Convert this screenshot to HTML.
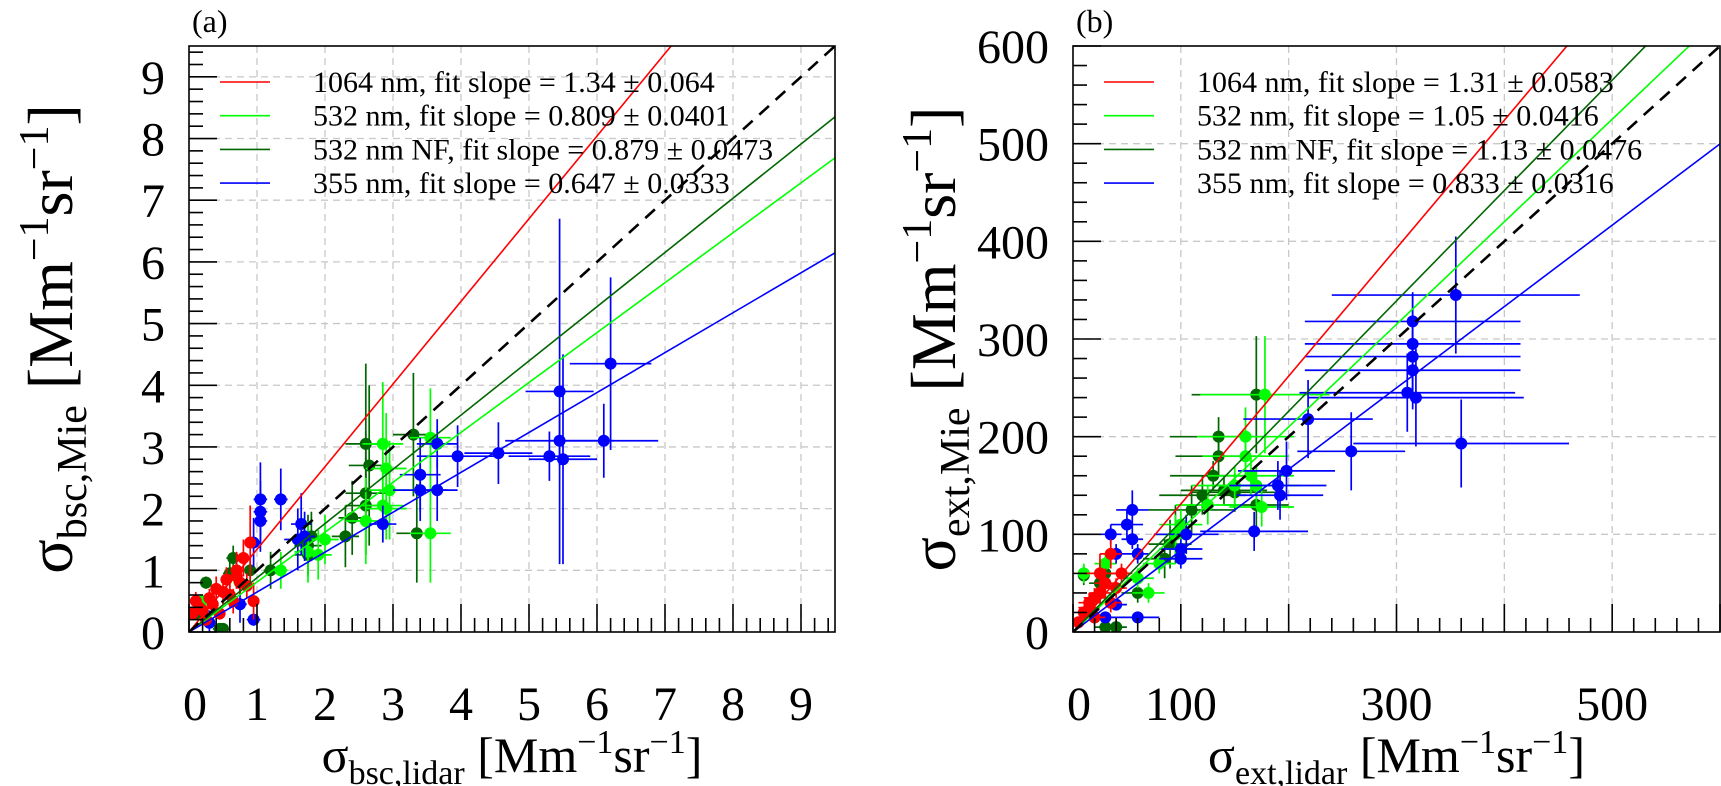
<!DOCTYPE html>
<html><head><meta charset="utf-8"><style>
html,body{margin:0;padding:0;background:#fff;}
svg{display:block;font-family:"Liberation Serif",serif;}
</style></head><body>
<svg id="fig" width="1721" height="786" viewBox="0 0 1721 786" xmlns="http://www.w3.org/2000/svg"></svg>
<script>
// ---------- Panel (a) data: [x, y, xerr, yerr] ----------
const aBlue=[[6.2,4.35,0.6,1.4],[5.45,3.9,0.5,2.8],[5.45,3.1,0.8,0.4],[5.5,2.8,0.5,1.7],[5.3,2.85,0.6,0.4],[6.1,3.1,0.8,0.6],[4.55,2.9,0.5,0.5],[3.95,2.85,0.6,0.5],[3.65,3.05,0.3,0.4],[3.65,2.3,0.3,0.5],[3.4,2.55,0.3,0.6],[3.4,2.3,0.4,0.5],[2.85,1.75,0.2,0.3],[1.6,1.5,0.2,0.5],[1.35,2.15,0.1,0.5],[1.05,2.15,0.1,0.6],[1.05,1.95,0.1,0.5],[1.05,1.8,0.1,0.5],[1.7,1.55,0.15,0.4],[1.65,1.75,0.15,0.5],[0.95,1.45,0.1,0.4],[0.95,0.2,0.1,0.1],[0.75,0.45,0.1,0.3],[0.3,0.15,0.05,0.2]];
const aDark=[[2.6,3.05,0.3,1.3],[2.65,2.7,0.3,1.3],[2.6,2.25,0.3,1.0],[2.6,2.05,0.3,0.8],[2.4,1.85,0.2,0.6],[3.3,3.2,0.3,1.0],[3.35,1.6,0.3,0.8],[2.3,1.55,0.2,0.5],[1.8,1.55,0.2,0.4],[1.75,1.25,0.2,0.3],[1.2,1.0,0.1,0.3],[0.9,1.0,0.1,0.2],[0.65,1.2,0.1,0.2],[0.6,0.95,0.1,0.3],[0.25,0.8,0.05,0.1],[0.5,0.05,0.1,0.05],[0.45,0.05,0.1,0.05],[0.1,0.3,0.05,0.1],[1.75,1.4,0.2,0.5]];
const aLight=[[2.85,3.05,0.3,1.0],[2.9,2.65,0.3,0.9],[2.95,2.3,0.3,0.8],[2.85,2.05,0.3,0.6],[3.55,3.15,0.3,0.8],[3.55,1.6,0.3,0.8],[2.9,2.0,0.3,0.5],[2.0,1.5,0.2,0.4],[1.9,1.25,0.2,0.4],[1.35,1.0,0.1,0.3],[0.75,0.8,0.1,0.2],[0.2,0.5,0.05,0.1],[1.75,1.3,0.2,0.5],[2.6,1.8,0.3,0.7]];
const aRed=[[0.05,0.3,0.05,0.1],[0.1,0.5,0.05,0.15],[0.15,0.4,0.05,0.1],[0.2,0.35,0.05,0.1],[0.3,0.55,0.05,0.15],[0.35,0.45,0.05,0.1],[0.4,0.7,0.05,0.2],[0.5,0.65,0.05,0.2],[0.55,0.85,0.05,0.2],[0.6,0.6,0.05,0.2],[0.7,1.0,0.05,0.3],[0.75,0.8,0.05,0.2],[0.8,1.2,0.05,0.3],[0.7,0.9,0.05,0.2],[0.85,0.75,0.05,0.2],[0.9,1.45,0.05,0.6],[0.65,0.5,0.05,0.2],[0.45,0.3,0.05,0.1],[0.25,0.2,0.05,0.1],[0.95,0.5,0.05,0.3]];
const aSlopes=[1.34,0.809,0.879,0.647];
const aLegend=["1064 nm, fit slope = 1.34 \u00b1 0.064","532 nm, fit slope = 0.809 \u00b1 0.0401","532 nm NF, fit slope = 0.879 \u00b1 0.0473","355 nm, fit slope = 0.647 \u00b1 0.0333"];
const aXTicks=[0,1,2,3,4,5,6,7,8,9];
const aYTicks=[0,1,2,3,4,5,6,7,8,9];
// ---------- Panel (b) data ----------
const bBlue=[[355,345,115,60],[315,318,100,30],[315,295,100,50],[315,282,100,40],[315,268,100,40],[310,245,100,40],[318,240,100,50],[360,193,100,45],[218,218,60,40],[258,185,50,40],[198,165,45,30],[190,150,45,25],[192,140,40,25],[168,103,50,20],[105,100,30,20],[55,125,15,20],[50,110,15,15],[35,100,10,10],[40,80,10,10],[60,80,10,10],[55,95,10,10],[40,28,10,5],[30,15,10,5],[60,15,20,3],[100,85,20,10],[100,75,20,10]];
const bDark=[[170,243,60,60],[135,200,45,20],[135,180,40,20],[130,160,40,15],[140,145,40,15],[120,140,40,20],[110,125,40,25],[95,100,20,30],[90,90,20,25],[85,75,20,20],[150,143,40,20],[170,130,30,30],[30,60,10,10],[25,50,10,20],[20,35,10,10],[10,58,5,10],[20,15,10,5],[30,5,10,3],[40,5,10,3],[60,40,15,10]];
const bLight=[[178,243,60,60],[160,200,45,30],[160,180,40,20],[165,160,40,20],[150,150,40,20],[170,150,40,20],[125,130,30,20],[100,110,20,15],[95,100,20,20],[100,85,15,15],[60,55,15,10],[70,40,15,10],[10,60,5,10],[30,70,10,10],[175,128,30,20],[80,70,15,10]];
const bRed=[[35,80,10,15],[25,60,15,20],[30,50,10,15],[25,40,10,10],[20,35,10,10],[15,25,10,8],[10,20,5,5],[20,15,10,5],[5,10,5,5],[35,30,10,10],[40,45,10,10],[15,30,10,10],[45,60,10,10]];
const bSlopes=[1.31,1.05,1.13,0.833];
const bLegend=["1064 nm, fit slope = 1.31 \u00b1 0.0583","532 nm, fit slope = 1.05 \u00b1 0.0416","532 nm NF, fit slope = 1.13 \u00b1 0.0476","355 nm, fit slope = 0.833 \u00b1 0.0316"];
const bXTicks=[0,100,300,500];
const bYTicks=[0,100,200,300,400,500,600];

const NS="http://www.w3.org/2000/svg";
const svg=document.getElementById('fig');
const COLORS=["#ff0000","#00ff00","#006600","#0000ff"];
function mk(tag,attrs,parent){const e=document.createElementNS(NS,tag);for(const k in attrs)e.setAttribute(k,attrs[k]);(parent||svg).appendChild(e);return e;}

function panel(o){
  const g=mk('g',{});
  
  
  const sx=v=>o.L+(v-o.xmin)/(o.xmax-o.xmin)*(o.R-o.L);
  const sy=v=>o.B-(v-o.ymin)/(o.ymax-o.ymin)*(o.B-o.T);
  const clip='clip-'+o.name;
  const cp=mk('clipPath',{id:clip},g);mk('rect',{x:o.L,y:o.T,width:o.R-o.L,height:o.B-o.T},cp);
  const grid=mk('g',{stroke:'#c8c8c8','stroke-width':1.3,'stroke-dasharray':'7,5'},g);
  
  
  for(let v=o.xgrid;v<o.xmax-1e-9;v+=o.xgrid){mk('line',{x1:sx(v),x2:sx(v),y1:o.T,y2:o.B},grid);}
  for(let v=o.ygrid;v<o.ymax-1e-9;v+=o.ygrid){mk('line',{x1:o.L,x2:o.R,y1:sy(v),y2:sy(v)},grid);}
  const plot=mk('g',{'clip-path':'url(#'+clip+')'},g);
  const sets=[o.dark,o.light,o.blue,o.red];
  const cols=["#006600","#00ff00","#0000ff","#ff0000"];
  const names=['series-532nf','series-532','series-355','series-1064'];
  sets.forEach((s,i)=>{
    const sg=mk('g',{stroke:cols[i],fill:cols[i],'stroke-width':1.7},plot);
    
    
    s.forEach(d=>{
      mk('line',{x1:sx(d[0]-d[2]),x2:sx(d[0]+d[2]),y1:sy(d[1]),y2:sy(d[1])},sg);
      mk('line',{x1:sx(d[0]),x2:sx(d[0]),y1:sy(d[1]-d[3]),y2:sy(d[1]+d[3])},sg);
      const c=mk('circle',{cx:sx(d[0]),cy:sy(d[1]),r:6,stroke:'none'},sg);
      
      
    });
  });
  const fitNames=['fit-1064','fit-532','fit-532nf','fit-355'];
  o.slopes.forEach((m,i)=>{
    const l=mk('line',{x1:sx(0),y1:sy(0),x2:sx(o.xmax),y2:sy(m*o.xmax),stroke:COLORS[i],'stroke-width':1.6},plot);
    
    
  });
  const one=mk('line',{x1:sx(0),y1:sy(0),x2:sx(o.xmax),y2:sy(o.xmax),stroke:'#000','stroke-width':2.6,'stroke-dasharray':'13,9'},plot);
  
  
  const fr=mk('rect',{x:o.L,y:o.T,width:o.R-o.L,height:o.B-o.T,fill:'none',stroke:'#000','stroke-width':1.6},g);
  
  
  const tk=mk('g',{stroke:'#000','stroke-width':1.6},g);
  
  
  for(let v=o.xmin;v<=o.xmax+1e-9;v+=o.xminor){const major=Math.abs(v/o.xmajor-Math.round(v/o.xmajor))<1e-6;mk('line',{x1:sx(v),x2:sx(v),y1:o.B,y2:o.B-(major?28:14)},tk);}
  for(let v=o.ymin;v<=o.ymax+1e-9;v+=o.yminor){const major=Math.abs(v/o.ymajor-Math.round(v/o.ymajor))<1e-6;mk('line',{x1:o.L,x2:o.L+(major?28:14),y1:sy(v),y2:sy(v)},tk);}
  o.xticks.forEach(v=>{const t=mk('text',{x:sx(v)+(v===0?6:0),y:o.B+88,'text-anchor':'middle','font-size':48},g);t.textContent=v;});
  o.yticks.forEach(v=>{const t=mk('text',{x:o.L-24,y:sy(v)+17,'text-anchor':'end','font-size':48},g);t.textContent=v;});
  const lg=mk('g',{},g);
  
  
  o.legend.forEach((s,i)=>{
    const y=o.T+36+i*33.7;
    const l=mk('line',{x1:o.L+31,x2:o.L+81,y1:y,y2:y,stroke:COLORS[i],'stroke-width':1.6},lg);
    
    
    const t=mk('text',{x:o.L+124,y:y+10,'font-size':30},lg);t.textContent=s;
    
    
  });
  const pl=mk('text',{x:o.L+3,y:o.T-14,'font-size':32},g);pl.textContent=o.label;
  
  
  const xt=mk('text',{x:(o.L+o.R)/2,y:o.B+140,'text-anchor':'middle','font-size':50},g);
  
  
  xt.innerHTML='\u03c3<tspan font-size="34" dy="12">'+o.sub+',lidar</tspan><tspan dy="-12"> [Mm</tspan><tspan font-size="34" dy="-19">\u22121</tspan><tspan dy="19">sr</tspan><tspan font-size="34" dy="-19">\u22121</tspan><tspan dy="19">]</tspan>';
  const yt=mk('text',{x:0,y:0,'text-anchor':'middle','font-size':64,transform:'translate('+o.yTitleX+','+((o.T+o.B)/2)+') rotate(-90)'},g);
  
  
  yt.innerHTML='\u03c3<tspan font-size="42" dy="14">'+o.sub+',Mie</tspan><tspan dy="-14"> [Mm</tspan><tspan font-size="42" dy="-24">\u22121</tspan><tspan dy="24">sr</tspan><tspan font-size="42" dy="-24">\u22121</tspan><tspan dy="24">]</tspan>';
}
panel({name:'panel-a',label:'(a)',sub:'bsc',L:189,R:835,T:46,B:632,yTitleX:72,xmin:0,xmax:9.5,ymin:0,ymax:9.5,xgrid:1,ygrid:1,xmajor:1,xminor:0.2,ymajor:1,yminor:0.2,
  blue:aBlue,dark:aDark,light:aLight,red:aRed,slopes:aSlopes,legend:aLegend,xticks:aXTicks,yticks:aYTicks});
panel({name:'panel-b',label:'(b)',sub:'ext',L:1073,R:1720,T:46,B:632,yTitleX:955,xmin:0,xmax:600,ymin:0,ymax:600,xgrid:100,ygrid:100,xmajor:100,xminor:20,ymajor:100,yminor:20,
  blue:bBlue,dark:bDark,light:bLight,red:bRed,slopes:bSlopes,legend:bLegend,xticks:bXTicks,yticks:bYTicks});
</script>
</body></html>
